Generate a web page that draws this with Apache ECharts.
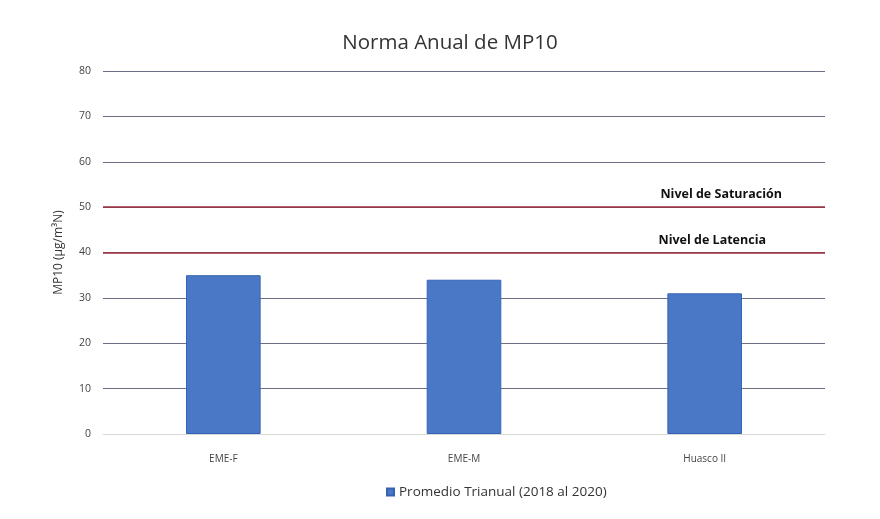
<!DOCTYPE html>
<html>
<head>
<meta charset="utf-8">
<script src="https://cdn.jsdelivr.net/npm/echarts@6/dist/echarts.min.js"></script>
<style>html,body{margin:0;padding:0;background:#fff}#c{width:880px;height:519px}</style>
</head>
<body>
<div id="c"></div>
<script>
const categories = ['EME-F', 'EME-M', 'Huasco II'];
const promedio = [35, 34, 31];
const seriesName = 'Promedio Trianual (2018 al 2020)';
const yTicks = [0, 10, 20, 30, 40, 50, 60, 70, 80];
const saturacion = 50;
const latencia = 40;

const chart = echarts.init(document.getElementById('c'));
const font = '"Open Sans", Lato, sans-serif';
chart.setOption({
  backgroundColor: '#fff',
  animation: false,
  title: {
    text: 'Norma Anual de MP10',
    left: 445, top: 28, textAlign: 'center',
    textStyle: { fontFamily: font, fontSize: 20.5, fontWeight: 'normal', color: '#333' }
  },
  legend: {
    bottom: 15, left: 381,
    itemWidth: 7, itemHeight: 7, icon: 'rect', itemGap: 4,
    textStyle: { fontFamily: font, fontSize: 13.5, color: '#333' },
    data: [seriesName]
  },
  grid: { left: 103, right: 55, top: 71, bottom: 85 },
  xAxis: {
    type: 'category', data: categories,
    axisLine: { show: true, lineStyle: { color: '#d9d9d9' } },
    axisTick: { show: false },
    axisLabel: { fontFamily: font, fontSize: 10, color: '#444', margin: 20 }
  },
  yAxis: {
    type: 'value', min: yTicks[0], max: yTicks[yTicks.length - 1], interval: 10,
    name: 'MP10 (µg/m³N)', nameLocation: 'middle', nameGap: 38,
    nameTextStyle: { fontFamily: font, fontSize: 12, color: '#333' },
    axisLine: { show: false }, axisTick: { show: false },
    axisLabel: { fontFamily: font, fontSize: 10.5, color: '#444', margin: 12 },
    splitLine: { lineStyle: { color: '#6b7085', width: 1 } }
  },
  series: [{
    name: seriesName, type: 'bar', data: promedio, barWidth: '31%',
    itemStyle: { color: '#4a78c6', borderColor: '#3563b3', borderWidth: 1 },
    markLine: {
      symbol: 'none', silent: true,
      lineStyle: { color: '#9e2a3c', width: 1.5, type: 'solid' },
      label: {
        position: 'insideEndTop',
        fontFamily: font, fontSize: 12.5, fontWeight: 'bold', color: '#111'
      },
      data: [
        { yAxis: saturacion, label: { formatter: 'Nivel de Saturación', distance: [43, 6] } },
        { yAxis: latencia, label: { formatter: 'Nivel de Latencia', distance: [59, 6] } }
      ]
    }
  }]
});
</script>
</body>
</html>
